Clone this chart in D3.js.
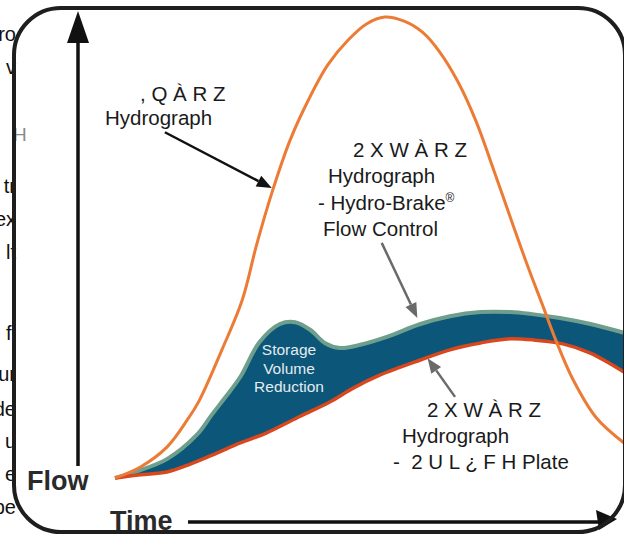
<!DOCTYPE html>
<html>
<head>
<meta charset="utf-8">
<script src="https://cdn.jsdelivr.net/npm/d3@7"></script>
<style>
body { margin: 0; background: #fff; }
svg { display: block; font-family: "Liberation Sans", Arial, sans-serif; }
</style>
</head>
<body>
<div class="graph"></div>
<script>

	// [time, flow], flow as % of the inflow peak
	var inflow = [[0,0],[2.5,2.4],[5.1,6.7],[7.1,12.6],[8.3,16.9],[10.5,27.8],[12.5,38.6],[13.9,50.5],
		[15.4,61.8],[17.2,73.3],[19,82],[20.9,89.6],[22.9,95],[24.7,98.5],[26.5,100],[28.4,99.1],
		[30.2,96.7],[31.9,92.4],[33.7,85.9],[35.5,77.2],[37.2,66.8],[39,55.5],[40.6,45.6],[42,37.5],
		[43.3,29.9],[45,21.3],[47.3,13],[50,7.6]];
	var hydroBrake = [[0,0],[2.2,1.5],[5.1,4.1],[8.1,9.5],[9.5,13.7],[10.8,17.4],[12.3,21.9],[14.2,29.5],
		[16.2,33.4],[17.7,33.8],[19.2,32.1],[20.6,29.3],[22.1,28.2],[24.1,28.9],[26.7,30.6],[30,33.4],
		[32.9,35.1],[35.9,36],[38.8,36],[40.8,35.6],[43.7,34.7],[46.7,33.4],[50,31.5]];
	var orifice = [[0,0],[2.5,0.7],[5.1,1.3],[7.4,3],[10,5.4],[12.3,7.6],[14.9,9.8],[18.2,13.4],
		[21.1,16.5],[23.4,19.5],[26,22.3],[30,25.6],[32.9,27.8],[35.9,29.3],[38.8,30.2],[41.3,29.9],
		[44,29.1],[46.7,27.1],[50,23]];

	var inflowLabel = [", Q À R Z", "Hydrograph"];
	var brakeLabel = ["2 X W À R Z", "Hydrograph", "- Hydro-Brake", "Flow Control"];
	var orificeLabel = ["2 X W À R Z", "Hydrograph", "-  2 U L ¿ F H Plate"];
	var storageLabel = ["Storage", "Volume", "Reduction"];
	var axisLabels = ["Flow", "Time"];
	// bits of the page text that stick out left of the box
	var sideText = ["ro", "v", ".", "tr", "ex", "lt", "fl", "ur", "de", "u", "e", "pe"];


	var svg = d3.select(".graph")
		.append("svg")
		.attr("width", 624)
		.attr("height", 536);

	var x = d3.scaleLinear().domain([0, 50]).range([115, 624]);
	var y = d3.scaleLinear().domain([0, 100]).range([478, 17]);

	var line = d3.line()
		.x(function(d){ return x(d[0]); })
		.y(function(d){ return y(d[1]); })
		.curve(d3.curveCatmullRom.alpha(0.5));

	var defs = svg.append("defs");
	defs.append("clipPath").attr("id", "box")
		.append("rect")
		.attr("x", 14).attr("y", 8)
		.attr("width", 611).attr("height", 524)
		.attr("rx", 47);
	defs.append("filter").attr("id", "soft")
		.append("feGaussianBlur").attr("stdDeviation", 0.5);

	// page text behind the box
	var sideY = [41, 74, 161, 193, 226, 259, 340, 381, 416, 448, 481, 514];
	svg.selectAll(".side")
		.data(sideText)
		.enter()
		.append("text")
		.attr("class", "side")
		.attr("x", 16)
		.attr("y", function(d, i){ return sideY[i]; })
		.attr("text-anchor", "end")
		.attr("font-size", "20px")
		.attr("fill", "#111")
		.text(function(d){ return d; });
	svg.append("text")
		.attr("x", 13).attr("y", 141)
		.attr("font-size", "19px")
		.attr("fill", "#8a8a8a")
		.text("H");

	var plot = svg.append("g").attr("clip-path", "url(#box)");

	// storage band between the two outflow curves
	var bandPath = line(hydroBrake) + line(orifice.slice().reverse()).replace(/^M/, "L") + "Z";
	plot.append("path")
		.attr("d", bandPath)
		.attr("fill", "#0b5679");

	plot.append("path")
		.attr("d", line(hydroBrake))
		.attr("fill", "none")
		.attr("stroke", "#6e9f8d")
		.attr("stroke-width", 4)
		.attr("filter", "url(#soft)");

	plot.append("path")
		.attr("d", line(orifice))
		.attr("fill", "none")
		.attr("stroke", "#d9461d")
		.attr("stroke-width", 3.5)
		.attr("filter", "url(#soft)");

	plot.append("path")
		.attr("d", line(inflow))
		.attr("fill", "none")
		.attr("stroke", "#ec7b34")
		.attr("stroke-width", 3)
		.attr("filter", "url(#soft)");

	// axis arrows
	svg.append("line")
		.attr("x1", 78).attr("x2", 78)
		.attr("y1", 466).attr("y2", 36)
		.attr("stroke", "#111").attr("stroke-width", 3.5);
	svg.append("polygon")
		.attr("points", "78,11 67,43 89,43")
		.attr("fill", "#111");

	svg.append("line")
		.attr("x1", 188).attr("x2", 602)
		.attr("y1", 522).attr("y2", 522)
		.attr("stroke", "#111").attr("stroke-width", 3.5);
	svg.append("polygon")
		.attr("points", "617,519 596,510 599,530")
		.attr("fill", "#111");

	svg.selectAll(".axisLabel")
		.data(axisLabels)
		.enter()
		.append("text")
		.attr("class", "axisLabel")
		.attr("x", function(d, i){ return i == 0 ? 27 : 110; })
		.attr("y", function(d, i){ return i == 0 ? 490 : 530; })
		.attr("font-size", "27px")
		.attr("font-weight", "bold")
		.attr("fill", "#2a2a2a")
		.text(function(d){ return d; });

	// callout text, one line per entry
	function addLabel(lines, xs, y0, dy, size, color){
		var g = svg.append("g");
		g.selectAll("text")
			.data(lines)
			.enter()
			.append("text")
			.attr("x", function(d, i){ return xs[i]; })
			.attr("y", function(d, i){ return y0 + i*dy; })
			.attr("font-size", size)
			.attr("fill", color)
			.style("white-space", "pre")
			.text(function(d){ return d; });
		return g;
	}

	addLabel(inflowLabel, [140, 105], 101, 23.5, "20.5px", "#1a1a1a");
	var brake = addLabel(brakeLabel, [353, 328, 318, 323], 157, 26.3, "20.5px", "#1a1a1a");
	brake.select("text:nth-child(3)")
		.append("tspan")
		.attr("font-size", "12px")
		.attr("dy", -8)
		.text("®");
	addLabel(orificeLabel, [427, 402, 393], 417, 26, "20.5px", "#1a1a1a");

	svg.append("g").selectAll("text")
		.data(storageLabel)
		.enter()
		.append("text")
		.attr("x", 289)
		.attr("y", function(d, i){ return 355 + i*18.7; })
		.attr("text-anchor", "middle")
		.attr("font-size", "15.5px")
		.attr("fill", "#e4ecf0")
		.text(function(d){ return d; });

	// pointer arrows, ends given in [time, flow]
	function arrow(from, to, color){
		var x1 = x(from[0]), y1 = y(from[1]), x2 = x(to[0]), y2 = y(to[1]);
		var a = Math.atan2(y2 - y1, x2 - x1), len = 15, half = 6;
		var bx = x2 - len*Math.cos(a), by = y2 - len*Math.sin(a);
		svg.append("line")
			.attr("x1", x1).attr("y1", y1)
			.attr("x2", bx).attr("y2", by)
			.attr("stroke", color).attr("stroke-width", 2.5);
		svg.append("polygon")
			.attr("points", [
				[x2, y2],
				[bx + half*Math.sin(a), by - half*Math.cos(a)],
				[bx - half*Math.sin(a), by + half*Math.cos(a)]
			].map(function(p){ return p.join(","); }).join(" "))
			.attr("fill", color);
	}

	arrow([4.9, 75], [15.4, 62.9], "#111");
	arrow([26.2, 51], [29.7, 34.7], "#6a6a6a");
	arrow([33.4, 17.6], [30.7, 26], "#6a6a6a");

	// frame on top
	svg.append("rect")
		.attr("x", 14).attr("y", 8)
		.attr("width", 611).attr("height", 524)
		.attr("rx", 47)
		.attr("fill", "none")
		.attr("stroke", "#1e1e1e")
		.attr("stroke-width", 4);

</script>
</body>
</html>
